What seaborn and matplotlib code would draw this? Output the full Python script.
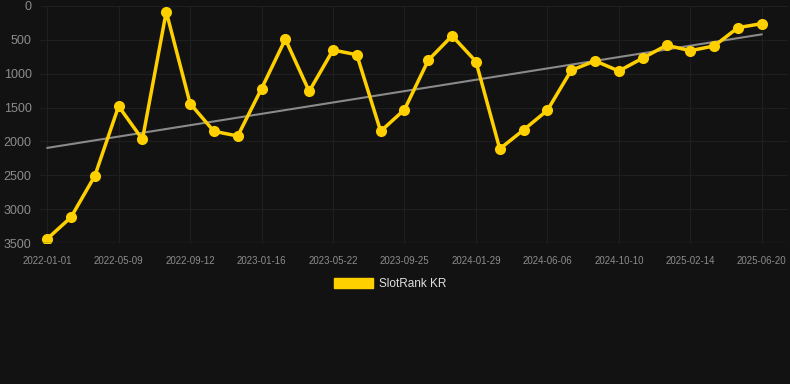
import numpy as np
import pandas as pd
import matplotlib
matplotlib.use("Agg")
import matplotlib.pyplot as plt
import seaborn as sns
from matplotlib.patches import Patch

# tick labels (every third point gets a label)
tick_labels = ["2022-01-01", "2022-05-09", "2022-09-12", "2023-01-16", "2023-05-22",
               "2023-09-25", "2024-01-29", "2024-06-06", "2024-10-10", "2025-02-14",
               "2025-06-20"]

# rank values
ranks = [3440, 3120, 2510, 1480, 1970, 85, 1440, 1850, 1920, 1220,
         490, 1260, 650, 720, 1850, 1530, 800, 440, 820, 2110,
         1830, 1540, 950, 810, 960, 770, 580, 660, 590, 320, 260]

df = pd.DataFrame({"idx": np.arange(len(ranks)), "rank": ranks})

# linear trend
coef = np.polyfit(df["idx"], df["rank"], 1)
df["trend"] = np.polyval(coef, df["idx"])

bg = "#121212"
sns.set_style("dark")
plt.rcParams["font.family"] = ["Liberation Sans", "DejaVu Sans"]

fig = plt.figure(figsize=(7.9, 3.84), dpi=100, facecolor=bg)
ax = fig.add_axes([40 / 790, 1 - 243 / 384, 748 / 790, 237 / 384])
ax.set_facecolor(bg)

sns.lineplot(data=df, x="idx", y="trend", ax=ax, color="#8a8a8a", linewidth=1.5)
sns.lineplot(data=df, x="idx", y="rank", ax=ax, color="#FFD000", linewidth=2.5,
             marker="o", markersize=8, markeredgewidth=0)

ax.set_xlim(-0.3, 31.1)
ax.set_ylim(3500, 0)
ax.set_yticks([0, 500, 1000, 1500, 2000, 2500, 3000, 3500])
ax.set_xticks(np.arange(0, 31, 3))
ax.set_xticklabels(tick_labels)
ax.grid(True, color="#1f1f1f", linewidth=0.8)
ax.set_xlabel("")
ax.set_ylabel("")
for s in ax.spines.values():
    s.set_visible(False)
ax.axhline(3500, color="#2a2a2a", linewidth=1)
ax.tick_params(axis="y", colors="#8c8c8c", labelsize=9, length=0, pad=6)
ax.tick_params(axis="x", colors="#8c8c8c", labelsize=7, length=0, pad=9)

handle = Patch(facecolor="#FFD000", edgecolor="#FFD000")
leg = fig.legend([handle], ["SlotRank KR"], loc="center",
                 bbox_to_anchor=(0.5 - 5 / 790, 1 - 284 / 384),
                 frameon=False, fontsize=8.5, handlelength=3.3, handleheight=0.9,
                 handletextpad=0.5)
for t in leg.get_texts():
    t.set_color("#e0e0e0")

fig.savefig("out.png", dpi=100, facecolor=bg)
